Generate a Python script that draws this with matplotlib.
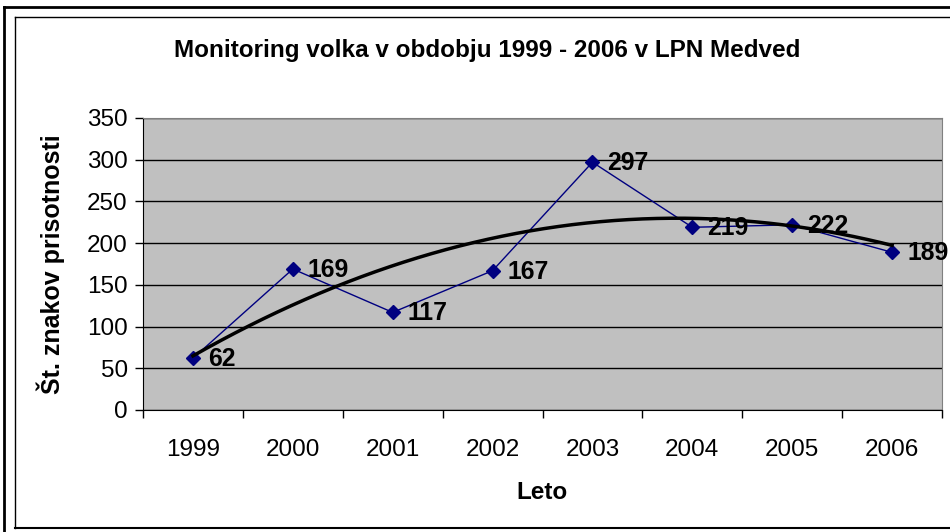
import matplotlib
matplotlib.use('Agg')
import matplotlib.pyplot as plt
from matplotlib.lines import Line2D
import numpy as np

plt.rcParams['font.family'] = ['Liberation Sans', 'DejaVu Sans']

years = ['1999', '2000', '2001', '2002', '2003', '2004', '2005', '2006']
counts = [62, 169, 117, 167, 297, 219, 222, 189]

W, H = 950, 532
fig = plt.figure(figsize=(W / 100, H / 100), dpi=100)

# chart frame lines (pixel coords -> figure fraction)
def fx(px):
    return px / W

def fy(py):
    return 1 - py / H

fig.add_artist(Line2D([fx(4), fx(4)], [fy(7), fy(540)], color='black', lw=2))
fig.add_artist(Line2D([fx(4), fx(960)], [fy(7), fy(7)], color='black', lw=2))
fig.add_artist(Line2D([fx(15), fx(15)], [fy(17), fy(528)], color='black', lw=1))
fig.add_artist(Line2D([fx(15), fx(960)], [fy(17), fy(17)], color='black', lw=1))
fig.add_artist(Line2D([fx(15), fx(960)], [fy(528), fy(528)], color='black', lw=1.5))

ax = fig.add_axes([fx(143), fy(410), (942 - 143) / W, (410 - 118) / H])
ax.set_facecolor('#C0C0C0')

x = np.arange(len(years))
ax.plot(x, counts, color='#000080', lw=1, marker='D', markersize=7, zorder=3)

# polynomial trend line (order 2)
coef = np.polyfit(x, counts, 2)
xs = np.linspace(0, len(years) - 1, 200)
ax.plot(xs, np.polyval(coef, xs), color='black', lw=2.5, zorder=4)

for xi, v in zip(x, counts):
    ax.annotate(str(v), (xi, v), xytext=(15, -1), textcoords='offset pixels',
                ha='left', va='center', fontsize=17.8, fontweight='bold',
                color='black', zorder=5)

ax.set_xlim(-0.5, len(years) - 0.5)
ax.set_ylim(0, 350)
ax.set_yticks(range(0, 351, 50))
ax.yaxis.grid(True, color='black', lw=1)
ax.set_axisbelow(True)

ax.set_xticks(np.arange(-0.5, len(years), 1))
ax.set_xticklabels([])
ax.set_xticks(x, minor=True)
ax.set_xticklabels(years, minor=True)
ax.tick_params(axis='x', which='major', direction='out', length=6, width=1)
ax.tick_params(axis='x', which='minor', length=0, pad=21, labelsize=17.5)
ax.tick_params(axis='y', direction='out', length=6, width=1, labelsize=17.5, pad=5)

for s in ['top', 'right']:
    ax.spines[s].set_color('#808080')
for s in ['left', 'bottom']:
    ax.spines[s].set_color('black')

ax.set_xlabel('Leto', fontsize=17.5, fontweight='bold', labelpad=14)
ax.set_ylabel('Št. znakov prisotnosti', fontsize=18, fontweight='bold', labelpad=16)

fig.text(fx(487), fy(50), 'Monitoring volka v obdobju 1999 - 2006 v LPN Medved',
         ha='center', va='center', fontsize=17.5, fontweight='bold')

fig.savefig('out.png', dpi=100)
